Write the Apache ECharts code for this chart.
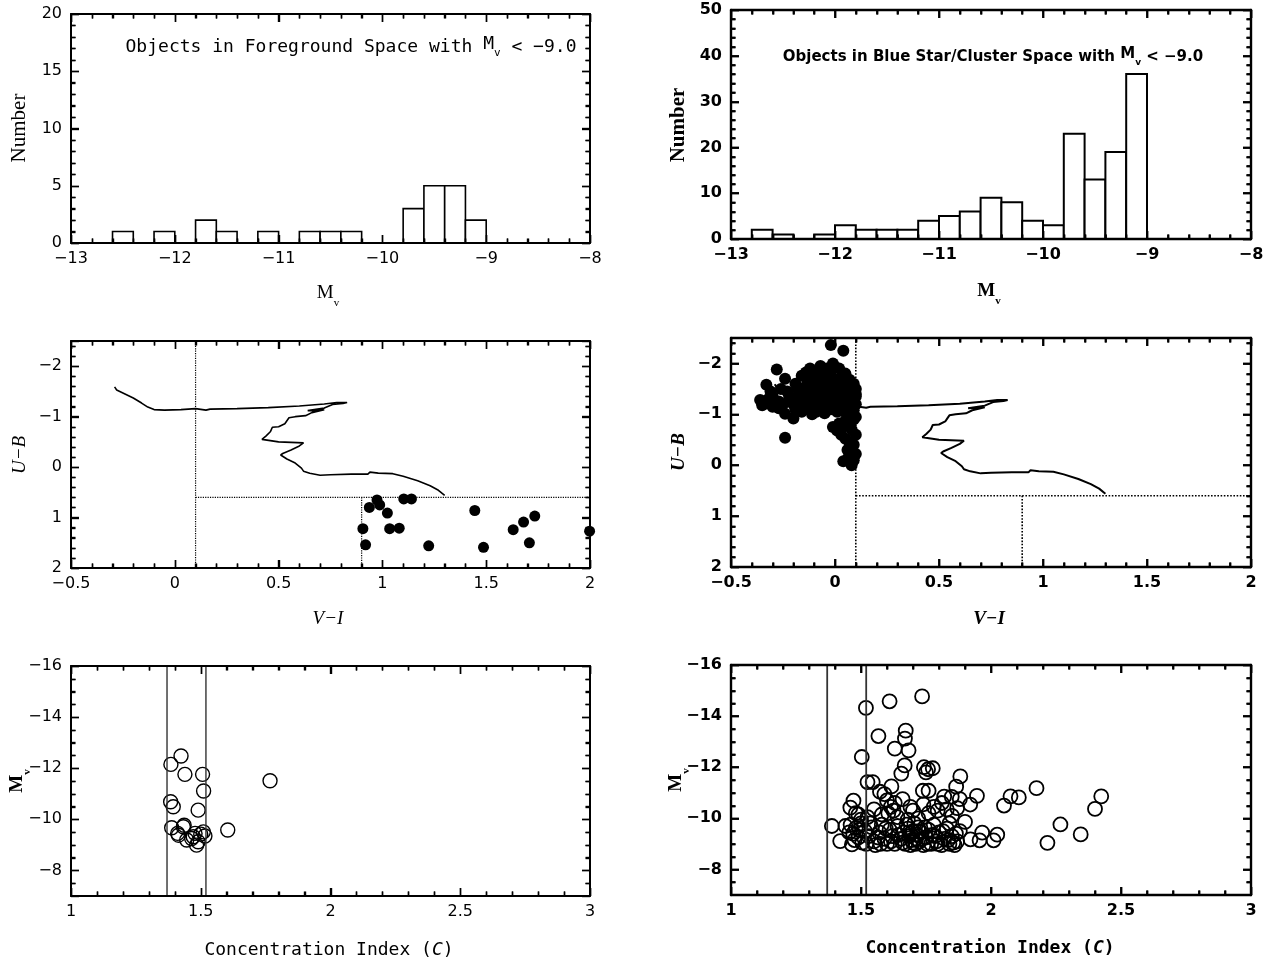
<!DOCTYPE html>
<html><head><meta charset="utf-8">
<script src="https://cdn.jsdelivr.net/npm/echarts@6/dist/echarts.min.js"></script>
<style>html,body{margin:0;padding:0;background:#fff}#c{width:1284px;height:966px}</style>
</head><body><div id="c"></div>
<script>
// ---------------- DATA ----------------
const BIN_WIDTH = 0.2;
const fgBinLo  = [-12.6,-12.2,-11.8,-11.6,-11.2,-10.8,-10.6,-10.4,-9.8,-9.6,-9.4,-9.2];
const fgCounts = [1,1,2,1,1,1,1,1,3,5,5,2];
const bsBinLo  = [-12.8,-12.6,-12.2,-12.0,-11.8,-11.6,-11.4,-11.2,-11.0,-10.8,-10.6,-10.4,-10.2,-10.0,-9.8,-9.6,-9.4,-9.2];
const bsCounts = [2,1,1,3,2,2,2,4,5,6,9,8,4,3,23,13,19,36];

const mvRange = [-13,-8];          const mvTicks = [-13,-12,-11,-10,-9,-8];
const fgNumRange = [0,20];         const fgNumTicks = [0,5,10,15,20];
const bsNumRange = [0,50];         const bsNumTicks = [0,10,20,30,40,50];
const viRange = [-0.5,2];          const viTicks = [-0.5,0,0.5,1,1.5,2];
const ubRange = [-2.5,2];          const ubTicks = [-2,-1,0,1,2];
const cRange = [1,3];              const cTicks = [1,1.5,2,2.5,3];
const mvcRange = [-16,-7];         const mvcTicks = [-16,-14,-12,-10,-8];

const trackVI = [-0.29,-0.28,-0.24,-0.20,-0.16,-0.13,-0.10,-0.05,0.03,0.10,0.15,0.17,0.30,0.45,0.60,0.72,0.78,0.83,0.81,0.76,0.72,0.64,0.72,0.66,0.63,0.58,0.55,0.54,0.53,0.50,0.47,0.46,0.44,0.42,0.42,0.50,0.62,0.60,0.56,0.52,0.51,0.54,0.58,0.61,0.62,0.65,0.70,0.75,0.85,0.93,0.94,0.98,1.05,1.10,1.17,1.23,1.27,1.30];
const trackUB = [-1.59,-1.53,-1.45,-1.37,-1.27,-1.19,-1.14,-1.13,-1.14,-1.16,-1.13,-1.15,-1.16,-1.18,-1.21,-1.25,-1.28,-1.28,-1.26,-1.24,-1.17,-1.12,-1.14,-1.08,-1.02,-1.00,-0.98,-0.92,-0.86,-0.80,-0.79,-0.70,-0.62,-0.55,-0.52,-0.50,-0.48,-0.42,-0.34,-0.27,-0.24,-0.16,-0.08,0.02,0.08,0.12,0.16,0.15,0.14,0.14,0.10,0.12,0.13,0.18,0.27,0.37,0.46,0.56];

const guideVI = [0.1, 0.9];
const guideUB = 0.6;

const fgDots = [[0.974,0.65],[0.937,0.80],[0.987,0.75],[1.103,0.63],[1.14,0.63],[0.906,1.22],[0.919,1.54],[1.024,0.91],[1.035,1.22],[1.081,1.21],[1.223,1.56],[1.445,0.86],[1.487,1.59],[1.63,1.24],[1.68,1.09],[1.734,0.97],[1.708,1.50],[1.998,1.27]];

const bsDots = [[-0.02,-2.36],[0.04,-2.25],[-0.01,-2.0],[0.0,-1.93],[-0.28,-1.88],[-0.33,-1.58],[-0.36,-1.28],[-0.35,-1.18],[-0.33,-1.22],[-0.30,-1.35],[-0.31,-1.45],
[-0.24,-1.70],[-0.24,-1.01],[-0.20,-0.92],[-0.24,-0.54],[-0.23,-1.45],[-0.19,-1.60],[-0.27,-1.25],[-0.26,-1.5],
[-0.14,-1.82],[-0.16,-1.76],[-0.12,-1.9],[-0.1,-1.72],[-0.06,-1.86],[-0.04,-1.9],[-0.08,-1.8],
[-0.18,-1.3],[-0.17,-1.45],[-0.15,-1.2],[-0.14,-1.55],[-0.13,-1.35],[-0.12,-1.1],[-0.11,-1.65],[-0.10,-1.25],[-0.10,-1.45],[-0.09,-1.05],[-0.08,-1.35],[-0.08,-1.58],[-0.07,-1.15],[-0.06,-1.7],[-0.06,-1.28],[-0.05,-1.45],[-0.05,-1.02],[-0.04,-1.6],[-0.04,-1.2],[-0.03,-1.38],[-0.02,-1.75],[-0.02,-1.1],[-0.01,-1.5],[0.0,-1.3],[0.0,-1.62],[0.01,-1.05],[0.01,-1.42],[0.02,-1.2],[0.02,-1.7],[0.03,-1.55],[0.03,-1.35],[0.04,-1.12],[0.04,-1.48],[0.05,-1.62],[0.05,-1.25],[0.06,-1.38],[0.06,-1.0],[0.07,-1.55],[0.07,-1.18],[0.08,-1.3],[0.08,-1.45],[0.09,-1.08],[0.09,-1.6],[0.1,-1.5],[0.1,-1.2],[0.1,-1.35],[0.09,-1.25],
[-0.2,-1.2],[-0.22,-1.35],[-0.19,-1.1],[-0.16,-1.05],[-0.13,-1.65],[-0.11,-1.0],[-0.15,-1.4],[-0.02,-1.85],[0.05,-1.8],[0.02,-1.9],[-0.07,-1.95],
[-0.01,-0.75],[0.01,-0.68],[0.03,-0.6],[0.05,-0.52],[0.07,-0.45],[0.08,-0.7],[0.06,-0.8],[0.09,-0.9],[0.1,-0.95],[0.08,-0.98],[0.05,-0.88],[0.07,-0.33],[0.08,-0.2],[0.06,-0.12],[0.04,-0.08],[0.09,-0.1],[0.1,-0.22],[0.08,0.0],[0.06,-0.3],[0.1,-0.6],[0.09,-0.4],[0.03,-0.72],[0.02,-0.82],
[-0.17,-1.25],[-0.14,-1.3],[-0.12,-1.5],[-0.09,-1.2],[-0.07,-1.42],[-0.05,-1.55],[-0.03,-1.25],[-0.01,-1.15],[0.0,-1.45],[0.02,-1.6],[0.04,-1.3],[0.06,-1.5],[0.08,-1.15],[0.1,-1.4],[-0.09,-1.5],[-0.06,-1.08],[-0.03,-1.65],[0.01,-1.25],[0.03,-1.45],[0.05,-1.05],[-0.18,-1.5],[-0.21,-1.25],[-0.25,-1.2],[-0.29,-1.2],[-0.32,-1.3],[-0.34,-1.25],[-0.3,-1.15],[-0.27,-1.12],[0.07,-1.68],[0.04,-1.65]];

const cCuts = [1.37, 1.52];
const pctC = [1.1, 1.38, 2.0];
const pctMv = -15;
const fgPct = ['0.0 %','91.7 %','8.3 %'];
const bsPct = ['0.0 %','13.4 %','86.6 %'];

const fgConc = [[1.424,-12.48],[1.385,-12.15],[1.439,-11.76],[1.507,-11.76],[1.511,-11.11],[1.767,-11.51],[1.384,-10.69],[1.394,-10.49],[1.49,-10.36],[1.388,-9.67],[1.433,-9.71],[1.436,-9.77],[1.411,-9.45],[1.414,-9.38],[1.446,-9.19],[1.471,-9.32],[1.49,-9.12],[1.51,-9.51],[1.516,-9.35],[1.604,-9.58],[1.484,-8.99],[1.478,-9.45],[1.465,-9.25],[1.50,-9.42]];

const bsConc = [[1.519,-14.32],[1.610,-14.58],[1.735,-14.77],[1.567,-13.22],[1.672,-13.43],[1.669,-13.12],[1.630,-12.73],[1.683,-12.66],[1.503,-12.40],[1.668,-12.07],[1.655,-11.75],[1.742,-12.00],[1.758,-11.92],[1.776,-11.96],[1.750,-11.80],[1.525,-11.42],[1.545,-11.42],[1.573,-11.04],[1.617,-11.25],[1.738,-11.08],[1.760,-11.08],[1.882,-11.64],[1.866,-11.24],[1.946,-10.88],[2.050,-10.50],[2.075,-10.86],[2.107,-10.82],[2.175,-11.18],
[2.217,-9.04],[2.267,-9.76],[2.345,-9.37],[2.400,-10.37],[2.424,-10.86],
[2.024,-9.36],[2.010,-9.14],[1.966,-9.44],[1.956,-9.14],[1.921,-9.18],[1.900,-9.86],[1.920,-10.54],
[1.849,-10.84],[1.811,-10.60],[1.795,-10.30],[1.780,-10.45],[1.830,-10.35],[1.850,-10.10],[1.840,-9.80],[1.820,-10.85],[1.459,-10.42],[1.471,-10.69],[1.480,-10.20],[1.500,-9.95],[1.550,-10.35],[1.600,-10.70],[1.615,-10.45],[1.630,-10.60],[1.625,-10.30],[1.580,-10.15],[1.640,-10.05],[1.690,-10.45],[1.700,-10.30],[1.720,-10.00],[1.680,-9.95],[1.870,-10.40],[1.880,-10.75],[1.760,-10.20],[1.740,-10.55],[1.660,-10.75],[1.590,-10.95],[1.605,-10.20],[1.525,-10.05],[1.490,-10.15],
[1.388,-9.70],[1.420,-9.11],[1.440,-9.70],[1.455,-9.45],[1.465,-8.98],[1.470,-9.40],[1.480,-9.62],[1.490,-9.25],[1.500,-9.80],[1.505,-9.05],[1.515,-9.50],[1.530,-9.30],[1.540,-9.65],[1.550,-9.10],[1.555,-8.95],[1.570,-9.45],[1.580,-9.75],[1.590,-9.20],[1.600,-9.00],[1.610,-9.55],[1.620,-9.30],[1.630,-9.00],[1.640,-9.70],[1.655,-9.20],[1.665,-9.45],[1.670,-9.00],[1.680,-9.60],[1.685,-9.30],[1.690,-8.95],[1.695,-9.15],[1.700,-9.50],[1.705,-9.80],[1.710,-9.00],[1.715,-9.35],[1.720,-9.65],[1.725,-9.10],[1.730,-9.45],[1.740,-8.95],[1.750,-9.25],[1.760,-9.55],[1.770,-9.00],[1.775,-9.35],[1.780,-9.75],[1.790,-9.10],[1.800,-9.45],[1.810,-8.95],[1.820,-9.20],[1.830,-9.60],[1.840,-9.00],[1.850,-9.30],[1.860,-8.95],[1.870,-9.10],[1.880,-9.50],[1.460,-9.75],[1.475,-9.15],[1.495,-9.55],[1.520,-9.00],[1.535,-9.80],[1.565,-9.25],[1.575,-9.00],[1.595,-9.60],[1.615,-9.10],[1.645,-9.35],[1.660,-9.05],[1.675,-9.75],[1.690,-9.40],[1.700,-9.05],[1.712,-9.20],[1.722,-9.50],[1.735,-9.20],[1.745,-9.65],[1.755,-9.00],[1.785,-9.30],[1.795,-9.00],[1.815,-9.50],[1.835,-9.15],[1.855,-9.05],[1.865,-9.40]];

// ---------------- BUILD ----------------
const SERIF = 'Liberation Serif', SANS = 'DejaVu Sans', MONO = 'DejaVu Sans Mono';
const fmt = v => String(+(+v).toFixed(2)).replace('-', '\u2212');
const grids = [], xAxis = [], yAxis = [], series = [];
function addAxes(list, gi, dim, a, bold) {
  const pos = dim === 'x' ? ['bottom', 'top'] : ['left', 'right'];
  const base = list.length;
  const lw = bold ? 2.4 : 2, tw = bold ? 1.8 : 1.4;
  pos.forEach((p, k) => {
    const ax = { type: 'value', gridIndex: gi, position: p, min: a.range[0], max: a.range[1], zlevel: 1, z: 10,
      axisLine: { show: true, onZero: false, lineStyle: { color: '#000', width: lw } },
      axisTick: { show: true, inside: true, length: 8, lineStyle: { color: '#000', width: tw } },
      minorTick: { show: true, splitNumber: a.minorSplit, length: 4.5, lineStyle: { color: '#000', width: tw } },
      axisLabel: k === 0 ? { show: true, margin: dim === 'x' ? 8 : 9, color: '#000', fontFamily: SANS, fontSize: 16,
        fontWeight: bold ? 'bold' : 'normal', formatter: fmt, showMinLabel: a.showMin !== false, showMaxLabel: a.showMax !== false } : { show: false },
      splitLine: { show: false }, minorSplitLine: { show: false } };
    if (a.inverse) ax.inverse = true;
    if (a.interval) ax.interval = a.interval;
    list.push(ax);
  });
  return base;
}
// inward ticks on all four sides, placed through the axes' scales (own canvas layer)
function tickSeries(p, a, b, bold) {
  const items = [];
  const add = (cfg, dim) => {
    const push = (v, len) => items.push(dim === 0 ? [v, b.range[0], 0, len] : [a.range[0], v, 1, len]);
    cfg.ticks.forEach(v => push(v, 8));
    const n0 = Math.ceil(cfg.range[0] / cfg.minorStep - 1e-9), n1 = Math.floor(cfg.range[1] / cfg.minorStep + 1e-9);
    for (let i = n0; i <= n1; i++) {
      const v = +(i * cfg.minorStep).toFixed(4);
      if (cfg.ticks.some(m => Math.abs(m - v) < 1e-6)) continue;
      if (Math.abs(v - cfg.range[0]) < 1e-6 || Math.abs(v - cfg.range[1]) < 1e-6) continue;
      push(v, 4.5);
    }
  };
  add(a, 0); add(b, 1);
  const lw = bold ? 1.8 : 1.4;
  series.push({ type: 'custom', xAxisIndex: p.xi, yAxisIndex: p.yi, clip: false, silent: true, zlevel: 2, z: 10, data: items,
    encode: { x: 0, y: 1 },
    renderItem: (params, api) => {
      const cs = params.coordSys, pt = api.coord([api.value(0), api.value(1)]), len = api.value(3);
      let d;
      if (api.value(2) === 0) {
        const x = Math.round(pt[0]) + 0.5, yb = cs.y + cs.height, yt = cs.y;
        d = [[x, yb, x, yb - len], [x, yt, x, yt + len]];
      } else {
        const y = Math.round(pt[1]) + 0.5, xl = cs.x, xr = cs.x + cs.width;
        d = [[xl, y, xl + len, y], [xr, y, xr - len, y]];
      }
      return { type: 'group', children: d.map(s => ({ type: 'line', shape: { x1: s[0], y1: s[1], x2: s[2], y2: s[3] },
        style: { stroke: '#000', lineWidth: lw } })) };
    } });
}
function panel(box, xa, ya, bold) {
  const gi = grids.length;
  grids.push({ left: box[0], top: box[1], width: box[2], height: box[3] });
  const p = { xi: addAxes(xAxis, gi, 'x', xa, bold), yi: addAxes(yAxis, gi, 'y', ya, bold) };
  tickSeries(p, xa, ya, bold);
  return p;
}

function histSeries(p, lo, counts, bold) {
  series.push({ type: 'custom', xAxisIndex: p.xi, yAxisIndex: p.yi,
    data: lo.map((l, i) => [l, l + BIN_WIDTH, counts[i]]),
    encode: { x: [0, 1], y: 2 },
    renderItem: (params, api) => {
      const a = api.coord([api.value(0), 0]), b = api.coord([api.value(1), api.value(2)]);
      return { type: 'rect', shape: { x: a[0], y: b[1], width: b[0] - a[0], height: a[1] - b[1] },
        style: { fill: '#fff', stroke: '#000', lineWidth: bold ? 2 : 1.6 } };
    } });
}
function cmdSeries(p, dots, bold) {
  const guides = [
    [[guideVI[0], ubRange[0]], [guideVI[0], ubRange[1]]],
    [[guideVI[0], guideUB], [viRange[1], guideUB]],
    [[guideVI[1], guideUB], [guideVI[1], ubRange[1]]]];
  guides.forEach(g => series.push({ type: 'line', xAxisIndex: p.xi, yAxisIndex: p.yi, data: g, symbol: 'none',
    lineStyle: { color: '#000', width: bold ? 1.6 : 1.2, type: 'dotted' }, silent: true }));
  series.push({ type: 'line', xAxisIndex: p.xi, yAxisIndex: p.yi, data: trackVI.map((v, i) => [v, trackUB[i]]),
    symbol: 'none', lineStyle: { color: '#000', width: bold ? 2 : 1.6 }, silent: true });
  series.push({ type: 'scatter', xAxisIndex: p.xi, yAxisIndex: p.yi, data: dots, symbol: 'circle', symbolSize: bold ? 12 : 11,
    itemStyle: { color: '#000', opacity: 1 }, silent: true });
}
function concSeries(p, pts, pct, bold) {
  cCuts.forEach(c => series.push({ type: 'line', xAxisIndex: p.xi, yAxisIndex: p.yi, data: [[c, mvcRange[0]], [c, mvcRange[1]]],
    symbol: 'none', lineStyle: { color: '#333', width: bold ? 1.8 : 1.4 }, silent: true }));
  series.push({ type: 'scatter', xAxisIndex: p.xi, yAxisIndex: p.yi, data: pts, symbol: 'circle', symbolSize: 14,
    itemStyle: { color: 'rgba(255,255,255,0)', borderColor: '#000', borderWidth: bold ? 1.8 : 1.4, opacity: 1 }, silent: true });
  series.push({ type: 'scatter', xAxisIndex: p.xi, yAxisIndex: p.yi, silent: true, symbol: 'circle', symbolSize: 1,
    itemStyle: { opacity: 0 },
    data: pctC.map((c, i) => ({ value: [c, pctMv], name: pct[i] })),
    label: { show: true, position: 'right', distance: 0, formatter: '{b}', color: '#000', fontFamily: MONO, fontSize: 16,
      fontWeight: bold ? 'bold' : 'normal' } });
}

const pTL = panel([71, 14, 519, 229], { range: mvRange, ticks: mvTicks, interval: 1, minorSplit: 5, minorStep: 0.2 },
  { range: fgNumRange, ticks: fgNumTicks, interval: 5, minorSplit: 5, minorStep: 1 }, false);
histSeries(pTL, fgBinLo, fgCounts, false);
const pTR = panel([731, 10, 520, 229], { range: mvRange, ticks: mvTicks, interval: 1, minorSplit: 5, minorStep: 0.2 },
  { range: bsNumRange, ticks: bsNumTicks, interval: 10, minorSplit: 5, minorStep: 2 }, true);
histSeries(pTR, bsBinLo, bsCounts, true);
const pML = panel([71, 341, 519, 227], { range: viRange, ticks: viTicks, interval: 0.5, minorSplit: 5, minorStep: 0.1 },
  { range: ubRange, ticks: ubTicks, minorSplit: 5, minorStep: 0.2, inverse: true, showMin: false }, false);
cmdSeries(pML, fgDots, false);
const pMR = panel([731, 338, 520, 229], { range: viRange, ticks: viTicks, interval: 0.5, minorSplit: 5, minorStep: 0.1 },
  { range: ubRange, ticks: ubTicks, minorSplit: 5, minorStep: 0.2, inverse: true, showMin: false }, true);
cmdSeries(pMR, bsDots, true);
const pBL = panel([71, 666, 519, 230], { range: cRange, ticks: cTicks, interval: 0.5, minorSplit: 5, minorStep: 0.1 },
  { range: mvcRange, ticks: mvcTicks, interval: 2, minorSplit: 4, minorStep: 0.5, inverse: true, showMax: false }, false);
concSeries(pBL, fgConc, fgPct, false);
const pBR = panel([731, 665, 520, 230], { range: cRange, ticks: cTicks, interval: 0.5, minorSplit: 5, minorStep: 0.1 },
  { range: mvcRange, ticks: mvcTicks, interval: 2, minorSplit: 4, minorStep: 0.5, inverse: true, showMax: false }, true);
concSeries(pBR, bsConc, bsPct, true);

// axis titles and panel captions (text)
function txt(x, y, text, font, size, bold, opts) {
  const w = bold ? 'bold' : 'normal';
  return Object.assign({ type: 'text', x: x, y: y, silent: true, style: { text: text, fill: '#000',
    font: (opts && opts.italic ? 'italic ' : '') + w + ' ' + size + 'px "' + font + '"', align: 'center', verticalAlign: 'middle',
    rich: { m: { fontFamily: font, fontWeight: w, fontSize: size, verticalAlign: 'top', lineHeight: size + 6 },
            s: { fontFamily: font, fontWeight: w, fontSize: Math.round(size * 0.6), verticalAlign: 'bottom', lineHeight: size + 6 },
            i: { fontFamily: font, fontWeight: w, fontSize: size, fontStyle: 'italic', lineHeight: size + 6 } } } }, opts && opts.rot ? { rotation: Math.PI / 2 } : {});
}
const graphic = [
  txt(351, 47, 'Objects in Foreground Space with {m|M}{s|v} < \u22129.0', MONO, 18, false),
  txt(993, 57, 'Objects in Blue Star/Cluster Space with {m|M}{s|v} < \u22129.0', SANS, 15, true),
  txt(328, 296, '{m|M}{s|v}', SERIF, 19, false), txt(19, 128, 'Number', SERIF, 21, false, { rot: true }),
  txt(989, 294, '{m|M}{s|v}', SERIF, 19, true), txt(679, 125, 'Number', SERIF, 21, true, { rot: true }),
  txt(328, 619, 'V\u2212I', SERIF, 19, false, { italic: true }), txt(20, 455, 'U\u2212B', SERIF, 19, false, { italic: true, rot: true }),
  txt(989, 619, 'V\u2212I', SERIF, 19, true, { italic: true }), txt(679, 452, 'U\u2212B', SERIF, 19, true, { italic: true, rot: true }),
  txt(329, 950, 'Concentration Index ({i|C})', MONO, 18, false), txt(20, 781, '{m|M}{s|v}', SERIF, 19, true, { rot: true }),
  txt(990, 948, 'Concentration Index ({i|C})', MONO, 18, true), txt(679, 780, '{m|M}{s|v}', SERIF, 19, true, { rot: true })
];

const chart = echarts.init(document.getElementById('c'), null, { renderer: 'canvas' });
chart.setOption({ animation: false, backgroundColor: '#fff', grid: grids, xAxis: xAxis, yAxis: yAxis, series: series, graphic: graphic });
</script></body></html>
